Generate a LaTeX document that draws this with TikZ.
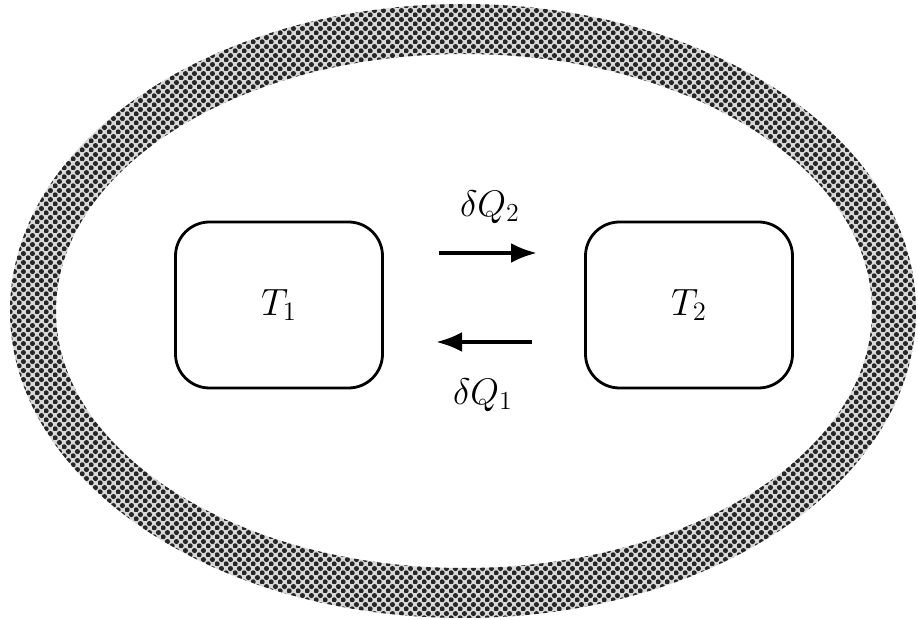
\documentclass[tikz,border=0pt]{standalone}
\usepackage{fix-cm}
\usepackage{amsmath,amssymb}
\usepackage{tikz}
\usepackage{xcolor}
\usetikzlibrary{patterns,arrows.meta}

\pgfdeclarepatternformonly{stipple}{\pgfpointorigin}{\pgfpoint{4.4pt}{4.4pt}}{\pgfpoint{4.4pt}{4.4pt}}{
  \pgfpathcircle{\pgfpoint{1.1pt}{1.1pt}}{1.3pt}
  \pgfpathcircle{\pgfpoint{3.3pt}{3.3pt}}{1.3pt}
  \pgfusepath{fill}}

\begin{document}
\begin{tikzpicture}[x=0.5pt,y=-0.5pt,every node/.style={align=center},
  body/.style={draw,line width=1.4pt,rounded corners=17pt,minimum width=103.5pt,minimum height=83pt,font=\fontsize{19}{23}\selectfont},
  flow/.style={line width=2pt,-{Latex[length=13pt,width=10pt]}},
  heat/.style={font=\fontsize{18.5}{22}\selectfont}]
\useasboundingbox (0,0) rectangle (918,620);
\fill[black!15,even odd rule] (463,311) ellipse [x radius=453,y radius=307] (464,311) ellipse [x radius=408,y radius=257];
\fill[pattern=stipple,pattern color=black!85,even odd rule] (463,311) ellipse [x radius=453,y radius=307] (464,311) ellipse [x radius=408,y radius=257];
\node[body] (t1) at (279,305) {$T_1$};
\node[body] (t2) at (689,305) {$T_2$};
\coordinate (a) at (439,253);\coordinate (b) at (537,253);
\coordinate (c) at (532,342);\coordinate (d) at (436,342);
\draw[flow] (a)--(b);\draw[flow] (c)--(d);
\node[heat] (q2) at (490,207) {$\delta Q_2$};
\node[heat] (q1) at (483,395) {$\delta Q_1$};
\end{tikzpicture}
\end{document}
